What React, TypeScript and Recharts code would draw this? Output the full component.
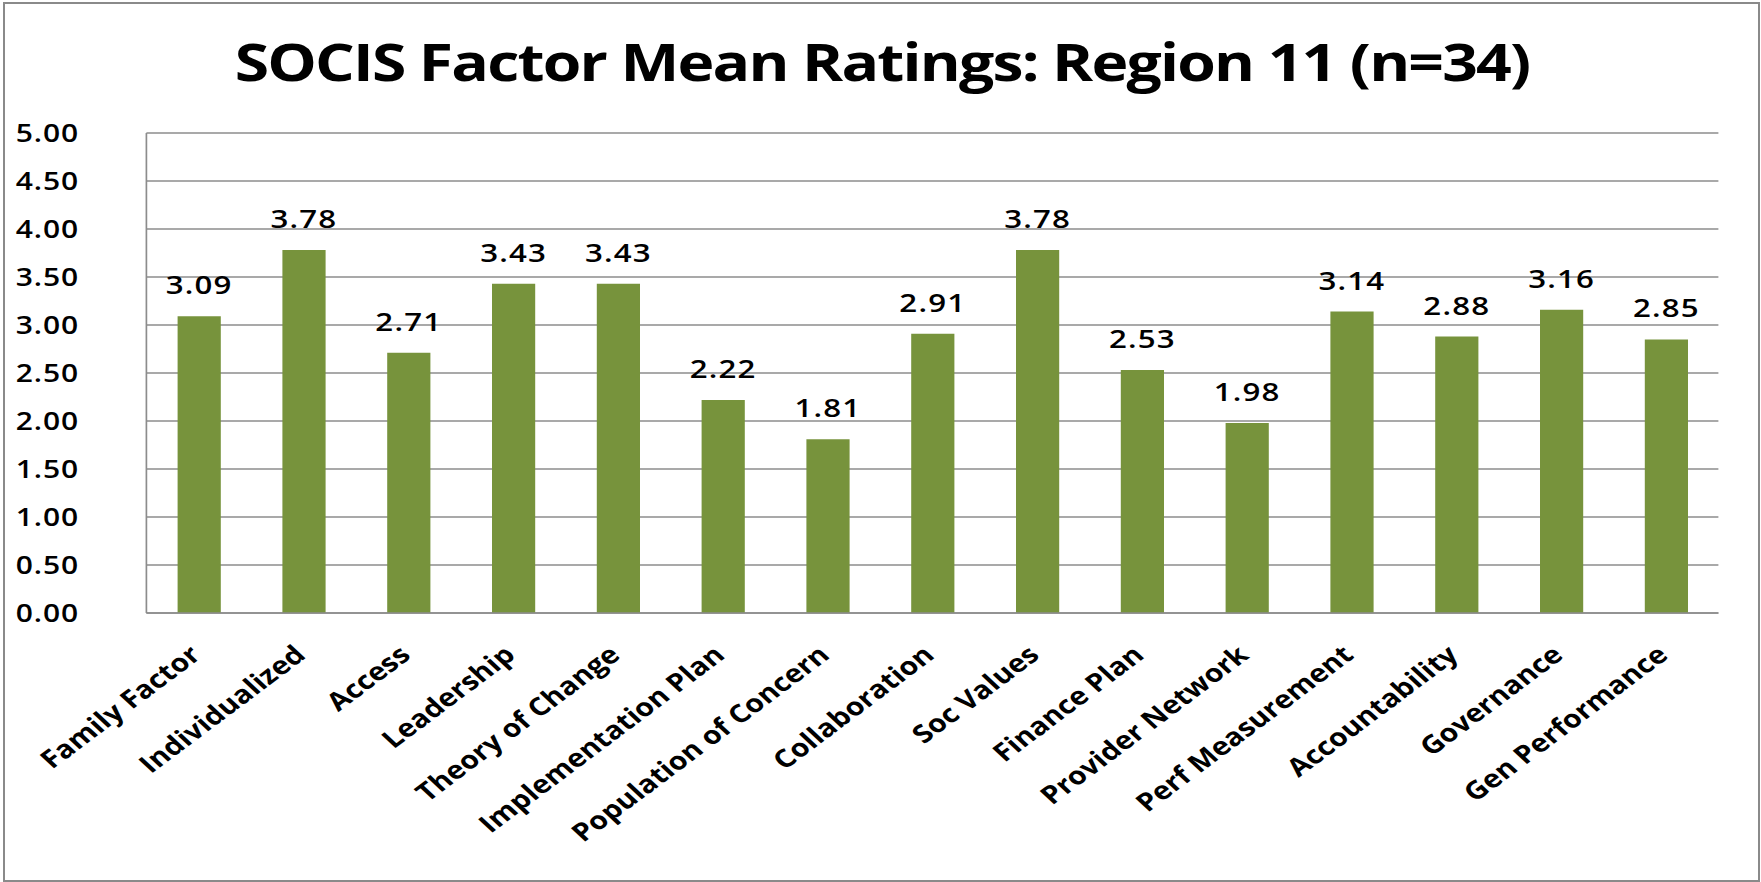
import { BarChart, Bar, XAxis, YAxis, CartesianGrid, LabelList } from 'recharts';

const factors = [
  'Family Factor',
  'Individualized',
  'Access',
  'Leadership',
  'Theory of Change',
  'Implementation Plan',
  'Population of Concern',
  'Collaboration',
  'Soc Values',
  'Finance Plan',
  'Provider Network',
  'Perf Measurement',
  'Accountability',
  'Governance',
  'Gen Performance',
];
const meanRatings = [3.09, 3.78, 2.71, 3.43, 3.43, 2.22, 1.81, 2.91, 3.78, 2.53, 1.98, 3.14, 2.88, 3.16, 2.85];
const yTicks = [0, 0.5, 1, 1.5, 2, 2.5, 3, 3.5, 4, 4.5, 5];

const chartData = factors.map((name, i) => ({ name, value: meanRatings[i] }));

// the original picture is stretched sideways, so draw narrower and scale up
const STRETCH = 1.2;
const W = 1468;
const H = 882;
const FONT = '"Open Sans", Calibri, sans-serif';

function CategoryTick(props: any) {
  const { x, y, payload } = props;
  return (
    <g transform={`translate(${x + 3},${y + 42})`}>
      <text
        transform="rotate(-42)"
        textAnchor="end"
        fontFamily={FONT}
        fontWeight={700}
        fontSize={25}
        fill="#000"
      >
        {payload.value}
      </text>
    </g>
  );
}

function ValueLabel(props: any) {
  const { x, y, width, value } = props;
  return (
    <text
      x={x + width / 2}
      y={y - 22}
      textAnchor="middle"
      fontFamily={FONT}
      fontWeight={600}
      fontSize={26}
      letterSpacing={1}
      fill="#000"
    >
      {value.toFixed(2)}
    </text>
  );
}

export default function App() {
  return (
    <div style={{ position: 'absolute', left: 0, top: 0, width: 1761, height: H, background: '#fff' }}>
      <div
        style={{
          position: 'absolute',
          left: 0,
          top: 0,
          width: W,
          height: H,
          transform: `scaleX(${STRETCH})`,
          transformOrigin: '0 0',
        }}
      >
        <svg
          width={W}
          height={110}
          style={{ position: 'absolute', left: 0, top: 0 }}
        >
          <text
            x={W / 2 + 1}
            y={81}
            textAnchor="middle"
            fontFamily={FONT}
            fontWeight={700}
            fontSize={52}
            letterSpacing={-1.5}
            fill="#000"
          >
            SOCIS Factor Mean Ratings: Region 11 (n=34)
          </text>
        </svg>
        <BarChart
          width={W}
          height={H}
          data={chartData}
          margin={{ top: 133, right: 36, bottom: 0, left: 0 }}
          barSize={36}
        >
          <CartesianGrid vertical={false} stroke="#8c8c8c" strokeWidth={1.4} />
          <XAxis
            dataKey="name"
            height={269}
            interval={0}
            tickLine={false}
            tickSize={0}
            axisLine={{ stroke: '#8c8c8c', strokeWidth: 1.4 }}
            tick={<CategoryTick />}
          />
          <YAxis
            width={122}
            domain={[0, 5]}
            ticks={yTicks}
            tickFormatter={(v: number) => v.toFixed(2)}
            tickLine={false}
            tickSize={0}
            tickMargin={56}
            axisLine={{ stroke: '#8c8c8c', strokeWidth: 1.4 }}
            tick={{ fontFamily: FONT, fontWeight: 600, fontSize: 25, letterSpacing: 0.8, fill: '#000' }}
          />
          <Bar dataKey="value" fill="#77933C" isAnimationActive={false}>
            <LabelList dataKey="value" content={<ValueLabel />} />
          </Bar>
        </BarChart>
      </div>
      <div
        style={{
          position: 'absolute',
          left: 3,
          top: 2,
          width: 1757,
          height: 880,
          border: '2px solid #8a8a8a',
          boxSizing: 'border-box',
        }}
      />
    </div>
  );
}
